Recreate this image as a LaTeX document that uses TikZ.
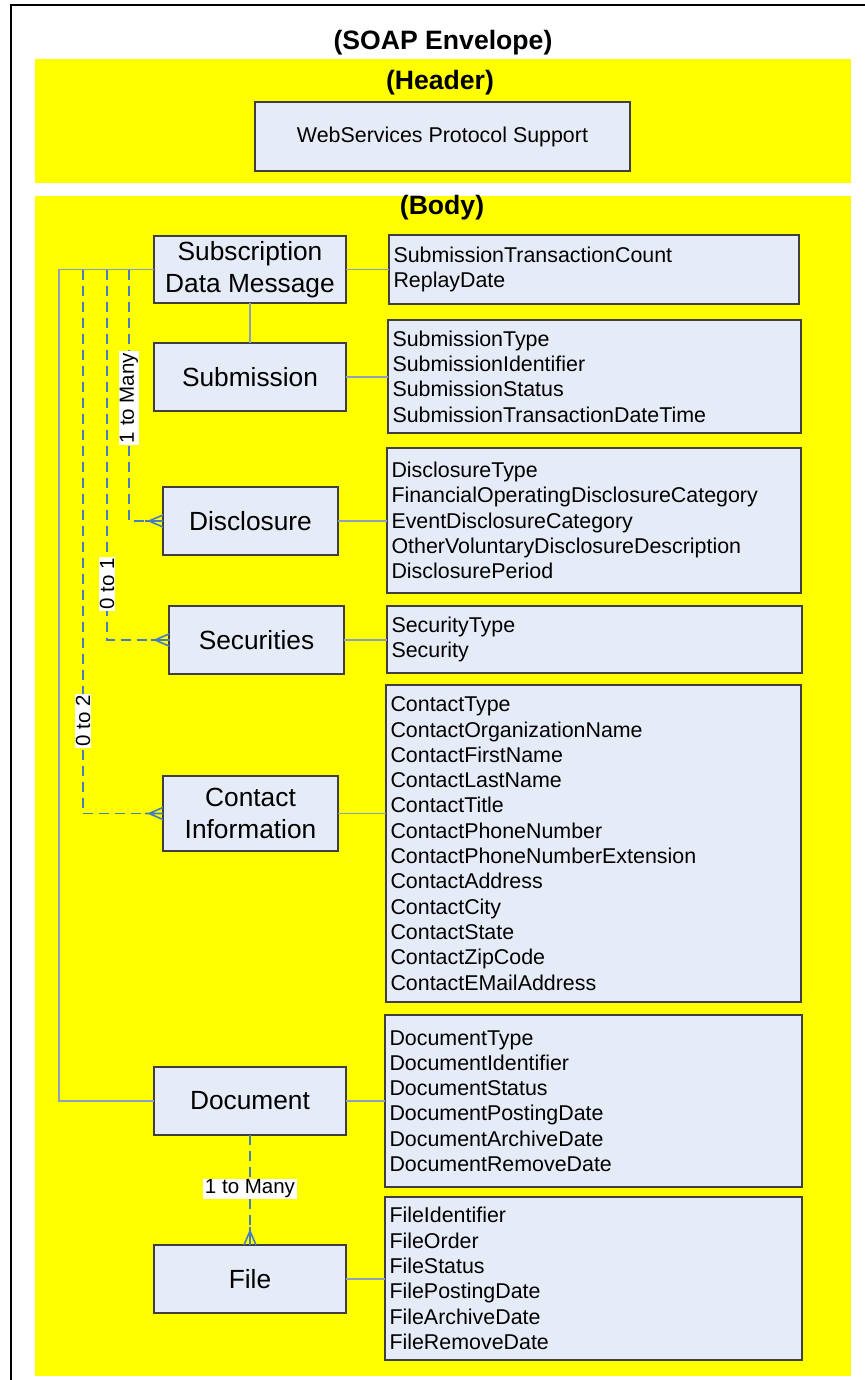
\documentclass[tikz,border=0pt]{standalone}
\usepackage{fontspec}
\setmainfont{Liberation Sans}
\usetikzlibrary{calc}
\definecolor{ybg}{HTML}{FFFF00}
\definecolor{boxfill}{HTML}{E6ECF7}
\definecolor{boxline}{HTML}{3F3F3F}
\definecolor{solidc}{HTML}{8AA0BC}
\definecolor{dashcol}{HTML}{4A7EBB}
\tikzset{
  ybox/.style={fill=ybg, draw=none},
  entity/.style={draw=boxline, fill=boxfill, line width=1.3pt, inner sep=0pt, outer sep=0pt,
    align=center, font=\fontsize{26.3}{32}\selectfont},
  attr/.style={draw=boxline, fill=boxfill, line width=1.3pt, inner xsep=4.5pt, inner ysep=0pt, outer sep=0pt,
    align=left, font=\fontsize{21.4}{25.3}\selectfont},
  title/.style={font=\fontsize{26.6}{30}\selectfont\bfseries, inner sep=0pt},
  solidconn/.style={draw=solidc, line width=1.2pt},
  dashconn/.style={draw=dashcol, line width=1.6pt, dash pattern=on 10pt off 6pt},
  footc/.style={draw=dashcol, line width=1.6pt},
  lbl/.style={fill=white, inner xsep=1.5pt, inner ysep=1pt, font=\fontsize{20.5}{24}\selectfont},
}
\begin{document}
\begin{tikzpicture}[x=1pt, y=-1pt]
\useasboundingbox (0,0) rectangle (864,1380);
\fill[white] (0,0) rectangle (864,1380);
% outer envelope frame
\draw[black, line width=2.2pt] (11,1390) -- (11,5) -- (870,5);
% yellow regions
\fill[ybg] (35,59) rectangle (851,183);
\fill[ybg] (35,196) rectangle (851,1376);
% titles
\node[title] (tenv) at (443,43) {(SOAP Envelope)};
\node[title] (thead) at (440,83) {(Header)};
\node[title] (tbody) at (442,208) {(Body)};
% header box
\node[entity, minimum width=375pt, minimum height=69pt, font=\fontsize{21.4}{25}\selectfont] (wsp) at (442.5,136.5) {WebServices Protocol Support};
% entities
\node[entity, minimum width=192pt, minimum height=67pt] (sdm) at (250,269.5) {Subscription\\Data Message};
\node[entity, minimum width=192pt, minimum height=68pt] (sub) at (250,377) {Submission};
\node[entity, minimum width=175pt, minimum height=68pt] (dis) at (250.5,521) {Disclosure};
\node[entity, minimum width=175pt, minimum height=68pt] (sec) at (256.5,640) {Securities};
\node[entity, minimum width=175pt, minimum height=75pt] (con) at (250.5,813.5) {Contact\\Information};
\node[entity, minimum width=192pt, minimum height=68pt] (doc) at (250,1101) {Document};
\node[entity, minimum width=192pt, minimum height=68pt] (fil) at (250,1279) {File};
% attribute boxes
\node[attr, text width=401pt, minimum height=69pt] (a1) at (594,269.5)
  {SubmissionTransactionCount\\ReplayDate};
\node[attr, text width=404pt, minimum height=113pt] (a2) at (594.5,376.5)
  {SubmissionType\\SubmissionIdentifier\\SubmissionStatus\\SubmissionTransactionDateTime};
\node[attr, text width=405pt, minimum height=145pt] (a3) at (594,520.5)
  {DisclosureType\\FinancialOperatingDisclosureCategory\\EventDisclosureCategory\\OtherVoluntaryDisclosureDescription\\DisclosurePeriod};
\node[attr, text width=406pt, minimum height=67pt] (a4) at (594.5,639.5)
  {SecurityType\\Security};
\node[attr, text width=406pt, minimum height=317pt] (a5) at (593.5,843.5)
  {ContactType\\ContactOrganizationName\\ContactFirstName\\ContactLastName\\ContactTitle\\ContactPhoneNumber\\ContactPhoneNumberExtension\\ContactAddress\\ContactCity\\ContactState\\ContactZipCode\\ContactEMailAddress};
\node[attr, text width=408pt, minimum height=172pt] (a6) at (593.5,1101)
  {DocumentType\\DocumentIdentifier\\DocumentStatus\\DocumentPostingDate\\DocumentArchiveDate\\DocumentRemoveDate};
\node[attr, text width=408pt, minimum height=163pt] (a7) at (593.5,1278.5)
  {FileIdentifier\\FileOrder\\FileStatus\\FilePostingDate\\FileArchiveDate\\FileRemoveDate};
% solid connectors entity -> attributes
\draw[solidconn] (sdm.east) -- (sdm.east -| a1.west);
\draw[solidconn] (sub.east) -- (sub.east -| a2.west);
\draw[solidconn] (dis.east) -- (dis.east -| a3.west);
\draw[solidconn] (sec.east) -- (sec.east -| a4.west);
\draw[solidconn] (con.east) -- (con.east -| a5.west);
\draw[solidconn] (doc.east) -- (doc.east -| a6.west);
\draw[solidconn] (fil.east) -- (fil.east -| a7.west);
% hierarchy connectors
\draw[solidconn] (sdm.south) -- (sub.north);
\draw[solidconn] (sdm.west) -- ++(-95,0) |- (doc.west);
\coordinate (j1) at ($(sdm.west)+(-25,0)$);
\coordinate (j2) at ($(sdm.west)+(-47,0)$);
\coordinate (j3) at ($(sdm.west)+(-71,0)$);
\draw[dashconn] (j1) |- (dis.west);
\draw[dashconn] (j2) |- (sec.west);
\draw[dashconn] (j3) |- (con.west);
\draw[dashconn] (doc.south) -- (fil.north);
% crow's feet
\foreach \n in {dis,sec,con}{
  \draw[footc] ($(\n.west)+(-14,0)$) -- ($(\n.west)+(0,-6)$)
               ($(\n.west)+(-14,0)$) -- ($(\n.west)+(0,6)$)
               ($(\n.west)+(-18,0)$) -- (\n.west);
}
\draw[footc] ($(fil.north)+(0,-14)$) -- ($(fil.north)+(-6,0)$)
             ($(fil.north)+(0,-14)$) -- ($(fil.north)+(6,0)$)
             ($(fil.north)+(0,-18)$) -- (fil.north);
% cardinality labels
\node[lbl, rotate=90] (l1) at (129,398) {1 to Many};
\node[lbl, rotate=90] (l2) at (107,584) {0 to 1};
\node[lbl, rotate=90] (l3) at (83,721) {0 to 2};
\node[lbl] (l4) at (250,1189) {1 to Many};
\end{tikzpicture}
\end{document}
